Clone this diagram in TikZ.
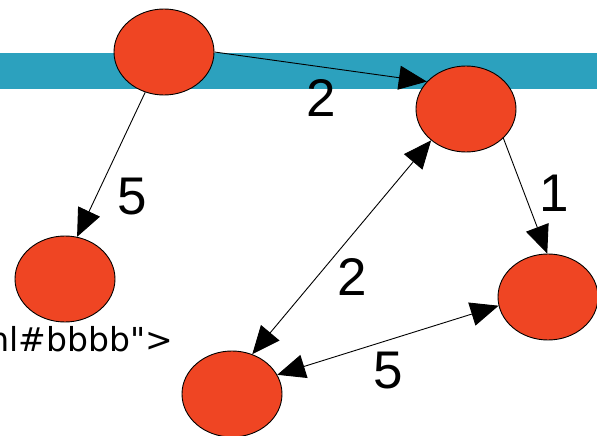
\documentclass[tikz,border=0pt]{standalone}
\usepackage{fontspec}
\setmainfont{Liberation Sans}
\newfontfamily\junkfont{DejaVu Sans}
\usetikzlibrary{arrows.meta,shapes.geometric}
\definecolor{vermil}{HTML}{EF4523}
\definecolor{lagoon}{HTML}{2CA1BE}
\tikzset{
  vertex/.style={
    ellipse, draw=black, fill=vermil, line width=0.9pt,
    minimum width=100pt, minimum height=86pt,
    inner sep=0pt
  },
  link/.style={
    -{Triangle[length=28pt, width=24pt]}, line width=0.9pt, color=black
  },
  bilink/.style={
    {Triangle[length=28pt, width=24pt]}-{Triangle[length=28pt, width=24pt]},
    line width=0.9pt, color=black
  },
  wt/.style={font=\fontsize{53}{53}\selectfont, inner sep=0pt},
}

\begin{document}
\begin{tikzpicture}[x=1pt, y=-1pt]
  \useasboundingbox (0,0) rectangle (597,436);
  % strip behind the upper row
  \fill[lagoon] (0,53) rectangle (597,89);
  % vertices
  \node[vertex] (a) at (164,52)  {};
  \node[vertex] (b) at (466,109) {};
  \node[vertex] (c) at (65,279)  {};
  \node[vertex] (d) at (548,297) {};
  \node[vertex] (e) at (232,394) {};
  % stray markup text, cut off at the left edge
  \node[anchor=base east, inner sep=0pt, font=\junkfont\fontsize{33}{33}\selectfont]
    (junk) at (173,351) {ml\#bbbb\symbol{34}>};
  % edges
  \draw[link] (a.east) -- (b.145);
  \draw[link] (a.245) -- (c.74);
  \draw[link] (b.322) -- (d.91);
  \draw[bilink] (e.63) -- (b.222);
  \draw[bilink] (e.23) -- (d.190);
  % weights
  \node[wt] (w1) at (321,98)  {2};
  \node[wt] (w2) at (132,197) {5};
  \node[wt] (w3) at (554,193) {1};
  \node[wt] (w4) at (352,277) {2};
  \node[wt] (w5) at (388,371) {5};
\end{tikzpicture}
\end{document}
